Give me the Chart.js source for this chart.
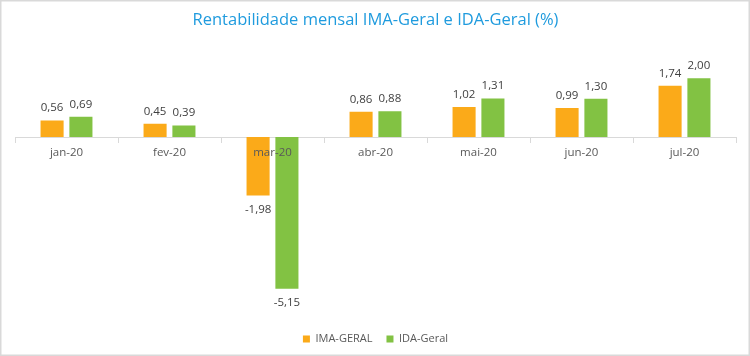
<!DOCTYPE html>
<html>
<head>
<meta charset="utf-8">
<script src="https://cdn.jsdelivr.net/npm/chart.js@4/dist/chart.umd.min.js"></script>
<style>
  html, body { margin: 0; padding: 0; background: #ffffff; }
  #wrap { width: 750px; height: 356px; position: relative; }
</style>
</head>
<body>
<div id="wrap"><canvas id="c" width="750" height="356"></canvas></div>
<script>
const categories = ['jan-20', 'fev-20', 'mar-20', 'abr-20', 'mai-20', 'jun-20', 'jul-20'];
const imaGeral = [0.56, 0.45, -1.98, 0.86, 1.02, 0.99, 1.74];
const idaGeral = [0.69, 0.39, -5.15, 0.88, 1.31, 1.30, 2.00];
const seriesNames = ['IMA-GERAL', 'IDA-Geral'];
const titleText = 'Rentabilidade mensal IMA-Geral e IDA-Geral (%)';

const FONT = "'Open Sans', 'Noto Sans', sans-serif";

const frame = {
  id: 'frame',
  beforeDraw(chart) {
    const ctx = chart.ctx;
    ctx.save();
    ctx.fillStyle = '#ffffff';
    ctx.fillRect(0, 0, chart.width, chart.height);
    ctx.restore();
  },
  afterDraw(chart) {
    const ctx = chart.ctx;
    ctx.save();
    ctx.strokeStyle = '#d9d9d9';
    ctx.lineWidth = 1.5;
    ctx.strokeRect(0.75, 0.75, chart.width - 1.5, chart.height - 1.5);
    ctx.restore();
  }
};

const valueLabels = {
  id: 'valueLabels',
  afterDatasetsDraw(chart) {
    const ctx = chart.ctx;
    ctx.save();
    ctx.font = "11.5px " + FONT;
    ctx.fillStyle = '#404040';
    ctx.textAlign = 'center';
    ctx.textBaseline = 'middle';
    chart.data.datasets.forEach((ds, di) => {
      const meta = chart.getDatasetMeta(di);
      meta.data.forEach((bar, i) => {
        const v = ds.data[i];
        const txt = v.toFixed(2).replace('.', ',');
        const y = v >= 0 ? bar.y - 12.5 : bar.y + 14;
        ctx.fillText(txt, bar.x, y);
      });
    });
    ctx.restore();
  }
};

new Chart(document.getElementById('c'), {
  type: 'bar',
  data: {
    labels: categories,
    datasets: [
      { label: seriesNames[0], data: imaGeral, backgroundColor: '#FBAA19', categoryPercentage: 0.56, barPercentage: 0.8 },
      { label: seriesNames[1], data: idaGeral, backgroundColor: '#82C243', categoryPercentage: 0.56, barPercentage: 0.8 }
    ]
  },
  options: {
    responsive: false,
    animation: false,
    layout: { padding: { left: 15, right: 14, top: 0, bottom: 1.5 } },
    plugins: {
      tooltip: { enabled: false },
      title: {
        display: true,
        text: titleText,
        color: '#1F9BDE',
        font: { family: FONT, size: 16.5, weight: 'normal', lineHeight: 1.2 },
        padding: { top: 10.6, bottom: 33 }
      },
      legend: {
        position: 'bottom',
        labels: {
          boxWidth: 7,
          boxHeight: 7,
          padding: 14,
          color: '#595959',
          font: { family: FONT, size: 11 }
        }
      }
    },
    scales: {
      x: {
        position: { y: 0 },
        grid: { display: true, offset: true, drawOnChartArea: false, drawTicks: true, tickLength: 5, color: '#d9d9d9' },
        border: { display: true, color: '#d9d9d9', width: 1 },
        ticks: { z: 1, color: '#595959', font: { family: FONT, size: 11.5 }, padding: 4, maxRotation: 0 }
      },
      y: {
        display: false,
        min: -6.19,
        max: 2.5
      }
    }
  },
  plugins: [frame, valueLabels]
});
</script>
</body>
</html>
